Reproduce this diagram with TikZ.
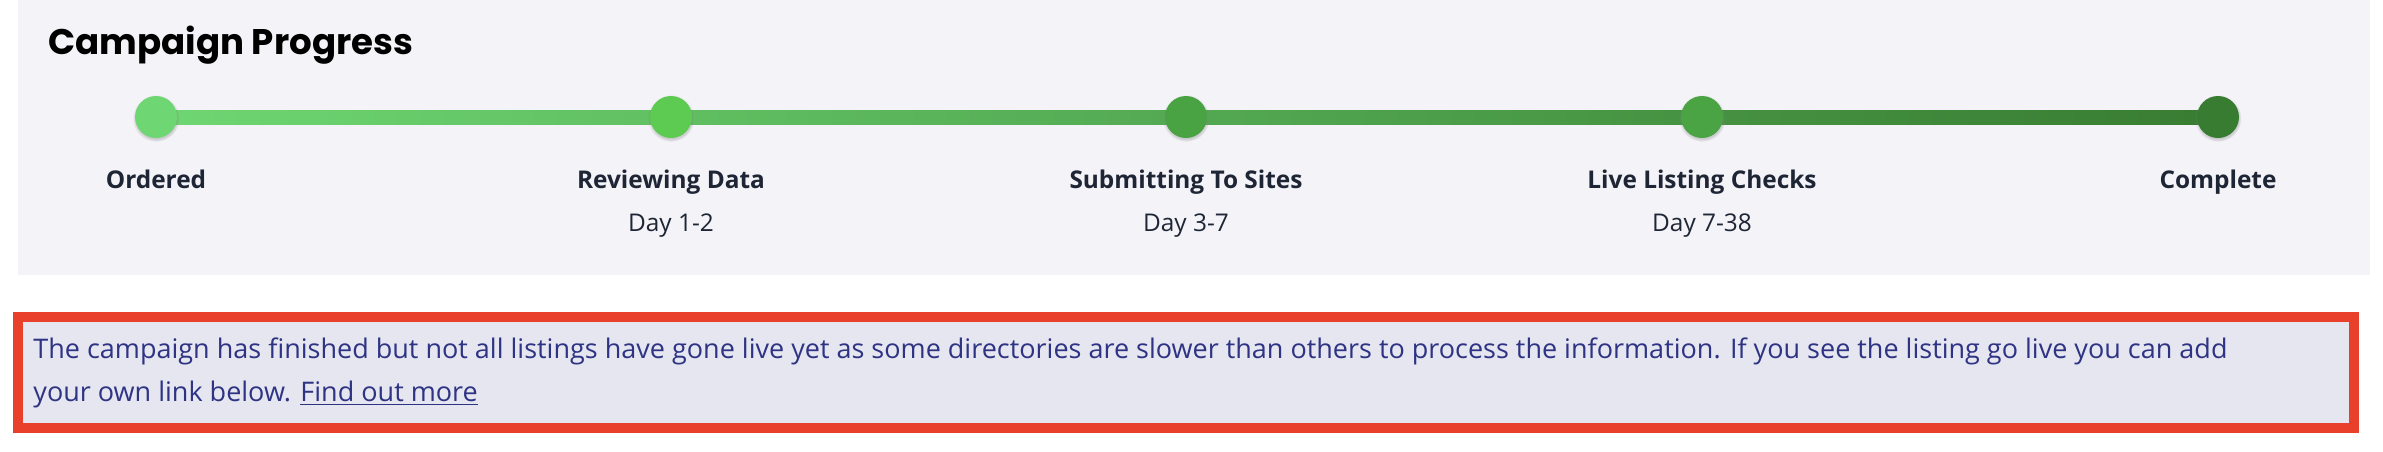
\documentclass[tikz,border=0pt]{standalone}
\usepackage{fontspec}
\setmainfont{Open Sans}
\newfontfamily\titlefont{Poppins}
\usepackage{tikz}
\usetikzlibrary{shadows,backgrounds}
\definecolor{panelbg}{HTML}{F3F3F8}
\definecolor{boxbg}{HTML}{E5E6EF}
\definecolor{boxred}{HTML}{E8402A}
\definecolor{navy}{HTML}{2E3384}
\definecolor{slate}{HTML}{1E2535}
\definecolor{greenA}{HTML}{6ED672}
\definecolor{greenB}{HTML}{5DCB51}
\definecolor{greenC}{HTML}{4AA343}
\definecolor{greenD}{HTML}{4BA443}
\definecolor{greenE}{HTML}{377C30}
\definecolor{lineend}{HTML}{387C32}
\tikzset
{
    stepdot/.style   = {circle, inner sep=0pt, minimum size=21pt, circular drop shadow={shadow xshift=0pt, shadow yshift=-0.6pt, shadow scale=1.12, opacity=0.35}},
    steplabel/.style = {anchor=base, text=slate, font=\bfseries\fontsize{12.2}{14}\selectfont},
    daylabel/.style  = {anchor=base, text=slate, font=\fontsize{12.2}{14}\selectfont},
    notebox/.style   = {line width=5pt, draw=boxred, fill=boxbg}
}
\begin{document}
\begin{tikzpicture}[x=0.5pt, y=-0.5pt]
	\useasboundingbox (0,0) rectangle (2383,451);
	\node[anchor=base west, inner sep=0pt, text=black, font=\titlefont\bfseries\fontsize{17.8}{21}\selectfont] (title) at (48,54) {Campaign Progress};
	\node[stepdot, fill=greenA] (ordered) at (156,117) {};
	\node[stepdot, fill=greenB] (reviewing) at (671,117) {};
	\node[stepdot, fill=greenC] (submitting) at (1186,117) {};
	\node[stepdot, fill=greenD] (checks) at (1702,117) {};
	\node[stepdot, fill=greenE] (complete) at (2218,117) {};
	\begin{scope}[on background layer]
		\fill[panelbg] (18,0) rectangle (2370,275);
		\shade[left color=greenA, right color=lineend] ([yshift=-3.5pt]ordered.center) rectangle ([yshift=3.5pt]complete.center);
	\end{scope}
	\node[steplabel] (orderedtxt) at (156,188) {Ordered};
	\node[steplabel] (reviewingtxt) at (671,188) {Reviewing Data};
	\node[daylabel] (reviewingday) at (671,231) {Day 1-2};
	\node[steplabel] (submittingtxt) at (1186,188) {Submitting To Sites};
	\node[daylabel] (submittingday) at (1186,231) {Day 3-7};
	\node[steplabel] (checkstxt) at (1702,188) {Live Listing Checks};
	\node[daylabel] (checksday) at (1702,231) {Day 7-38};
	\node[steplabel] (completetxt) at (2218,188) {Complete};
	\draw[notebox] (18,317) rectangle (2354,428);
	\node[anchor=base west, inner sep=0pt, align=left, text=navy, font=\fontsize{13.5}{21.5}\selectfont] (note) at (33,401)
	{The campaign has finished but not all listings have gone live yet as some directories are slower than others to process the information. If you see the listing go live you can add\\
	your own link below. \underline{Find out more}};
\end{tikzpicture}
\end{document}
